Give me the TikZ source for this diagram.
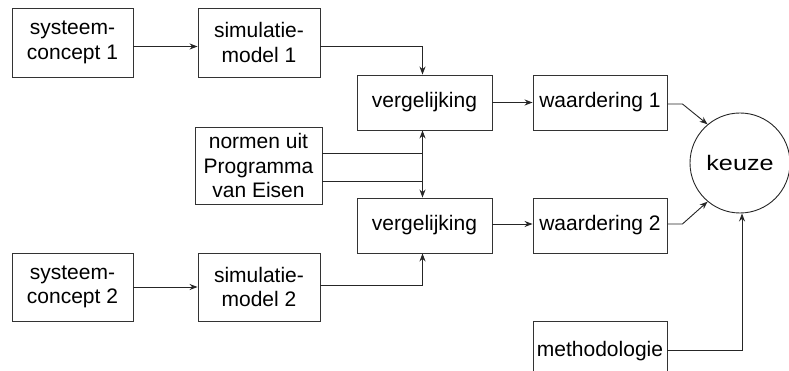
\documentclass[tikz,border=0pt]{standalone}
\usepackage{fontspec}
\setmainfont{Liberation Sans}
\usetikzlibrary{arrows.meta}
\begin{document}
\begin{tikzpicture}[x=1pt,y=-1pt,
  blk/.style={draw=black!80,line width=0.9pt,align=center,inner sep=0pt,
    font=\fontsize{21}{24.5}\selectfont},
  conn/.style={draw=black!85,line width=0.9pt,-{Stealth[length=8pt,width=6pt]}}]
\clip (0,0) rectangle (789,371);
\node[blk,minimum width=121pt,minimum height=69pt] (sc1) at (72.5,42.5) {systeem-\\concept 1};
\node[blk,minimum width=122pt,minimum height=69pt] (sm1) at (259,42.5) {simulatie-\\model 1};
\node[blk,minimum width=135pt,minimum height=55pt] (v1) at (424.5,102.5) {vergelijking};
\node[blk,minimum width=127pt,minimum height=77pt] (nm) at (258.5,165.5) {normen uit\\Programma\\van Eisen};
\node[blk,minimum width=135pt,minimum height=55pt] (v2) at (424.5,225.5) {vergelijking};
\node[blk,minimum width=121pt,minimum height=68pt] (sc2) at (72.5,287) {systeem-\\concept 2};
\node[blk,minimum width=122pt,minimum height=68pt] (sm2) at (259,287) {simulatie-\\model 2};
\node[blk,minimum width=134pt,minimum height=55pt] (w1) at (600,102.5) {waardering 1};
\node[blk,minimum width=134pt,minimum height=55pt] (w2) at (600,225.5) {waardering 2};
\node[blk,minimum width=134pt,minimum height=55pt,text depth=0pt] (me) at (600,348.5) {methodologie};
\node[draw=black!85,line width=0.9pt,circle,minimum size=100pt,inner sep=0pt,
  font=\fontsize{21}{24}\selectfont] (kz) at (740,163) {\scalebox{1.2}[1]{keuze}};
\draw[conn] ([yshift=-4pt]sc1.east) -- ([yshift=-4pt]sm1.west);
\draw[conn] ([yshift=-4pt]sm1.east) -| ([xshift=-2pt]v1.north);
\draw[conn] ([yshift=-15.5pt]nm.east) -| ([xshift=-2pt]v1.south);
\draw[conn] ([yshift=12.5pt]nm.east) -| ([xshift=-2pt]v2.north);
\draw[conn] ([yshift=2pt]sm2.east) -| ([xshift=-2pt]v2.south);
\draw[conn] (sc2.east) -- (sm2.west);
\draw[conn] (v1.east) -- (w1.west);
\draw[conn] ([yshift=1.5pt]v2.east) -- ([yshift=1.5pt]w2.west);
\draw[conn] ([yshift=-1.5pt]w1.east) -- ++(15,0) -- (kz.130);
\draw[conn] ([yshift=1.5pt]w2.east) -- ++(15,0) -- (kz.230);
\draw[conn] ([yshift=-1.5pt]me.east) -| ([xshift=2pt]kz.south);
\end{tikzpicture}
\end{document}
